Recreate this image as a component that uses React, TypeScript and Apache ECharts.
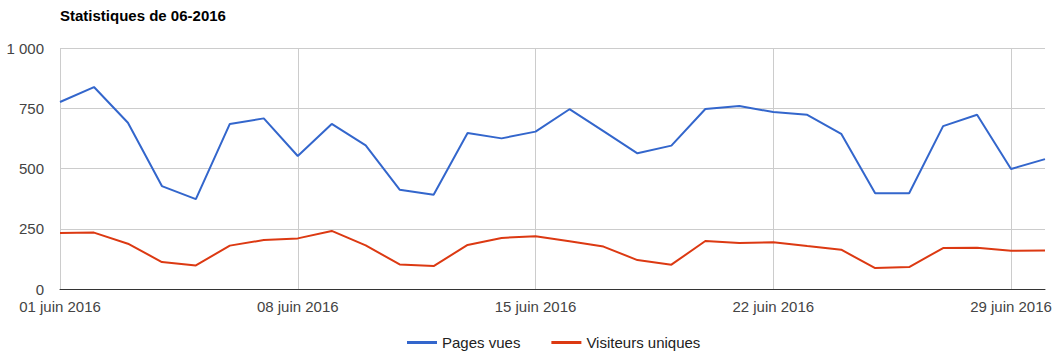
import React, { useEffect, useRef } from "react";
import * as echarts from "echarts";

const days: string[] = Array.from({ length: 30 }, (_, i) => `${String(i + 1).padStart(2, "0")} juin 2016`);
const pagesVues: number[] = [776, 838, 690, 427, 373, 685, 708, 552, 685, 596, 412, 391, 647, 625, 653, 746, 655, 563, 595, 747, 759, 734, 723, 644, 397, 397, 676, 723, 498, 539];
const visiteursUniques: number[] = [232, 234, 188, 112, 98, 180, 203, 210, 241, 181, 102, 95, 183, 212, 219, 198, 176, 120, 101, 199, 191, 194, 178, 163, 87, 91, 170, 171, 159, 160];
const title = "Statistiques de 06-2016";
const seriesNames = ["Pages vues", "Visiteurs uniques"];

const FONT = "Arial, 'Liberation Sans', sans-serif";

export default function App() {
  const ref = useRef<HTMLDivElement>(null);
  useEffect(() => {
    document.body.style.margin = "0";
    const chart = echarts.init(ref.current!, null, { renderer: "svg" });
    const showIdx = (i: number) => i % 7 === 0;
    chart.setOption({
      animation: false,
      backgroundColor: "#fff",
      title: {
        text: title,
        left: 60,
        top: 8,
        padding: 0,
        textStyle: { fontFamily: FONT, fontSize: 15, fontWeight: "bold", color: "#000" },
      },
      legend: {
        bottom: 6,
        left: 407,
        padding: 0,
        icon: "rect",
        itemWidth: 30,
        itemHeight: 3,
        itemGap: 31,
        textStyle: { fontFamily: FONT, fontSize: 15, color: "#222" },
        data: seriesNames,
      },
      grid: { left: 60, right: 13, top: 48, bottom: 67, containLabel: false },
      xAxis: {
        type: "category",
        data: days,
        boundaryGap: false,
        axisTick: { show: false },
        axisLine: { show: true, lineStyle: { color: "#333", width: 1 } },
        axisLabel: {
          interval: (i: number) => showIdx(i),
          fontFamily: FONT,
          fontSize: 15,
          color: "#444",
          margin: 10,
        },
        splitLine: {
          show: true,
          interval: (i: number) => showIdx(i),
          lineStyle: { color: "#ccc", width: 1 },
        },
      },
      yAxis: {
        type: "value",
        min: 0,
        max: 1000,
        interval: 250,
        axisLine: { show: false },
        axisTick: { show: false },
        axisLabel: {
          fontFamily: FONT,
          fontSize: 15,
          color: "#444",
          margin: 16,
          formatter: (v: number) => String(v).replace(/\B(?=(\d{3})+(?!\d))/g, " "),
        },
        splitLine: { lineStyle: { color: "#ccc", width: 1 } },
      },
      series: [
        {
          name: seriesNames[0],
          type: "line",
          data: pagesVues,
          showSymbol: false,
          symbol: "none",
          itemStyle: { color: "#3366cc" },
          lineStyle: { color: "#3366cc", width: 2 },
        },
        {
          name: seriesNames[1],
          type: "line",
          data: visiteursUniques,
          showSymbol: false,
          symbol: "none",
          itemStyle: { color: "#dc3912" },
          lineStyle: { color: "#dc3912", width: 2 },
        },
      ],
    });
    return () => chart.dispose();
  }, []);
  return <div ref={ref} style={{ width: 1058, height: 356 }} />;
}
